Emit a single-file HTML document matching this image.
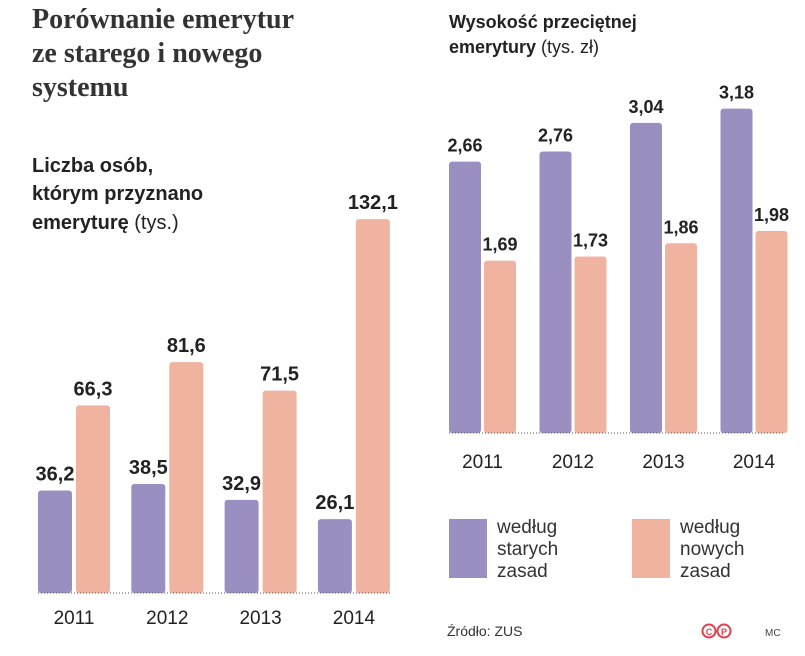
<!DOCTYPE html>
<html><head><meta charset="utf-8"><style>
body{margin:0;background:#fff;width:805px;height:651px;overflow:hidden;font-family:"Liberation Sans",sans-serif;color:#222}
</style></head><body>
<svg width="805" height="651">
<text x="32" y="28" font-family="Liberation Serif" font-weight="bold" font-size="28" fill="#333">Porównanie emerytur</text>
<text x="32" y="62" font-family="Liberation Serif" font-weight="bold" font-size="28" fill="#333">ze starego i nowego</text>
<text x="32" y="96" font-family="Liberation Serif" font-weight="bold" font-size="28" fill="#333">systemu</text>
<g font-size="20" fill="#222">
<text x="32" y="172" font-weight="bold">Liczba osób,</text>
<text x="32" y="200" font-weight="bold">którym przyznano</text>
<text x="32" y="229"><tspan font-weight="bold">emeryturę</tspan> (tys.)</text>
</g>
<g font-size="18" fill="#222">
<text x="449" y="28" font-weight="bold">Wysokość przeciętnej</text>
<text x="449" y="53"><tspan font-weight="bold">emerytury</tspan> (tys. zł)</text>
</g>
<g id="left"></g><g id="right"></g>
<rect x="449" y="519" width="38" height="59" fill="#9b8fc2"/>
<g font-size="19" fill="#333"><text x="497" y="533">według</text><text x="497" y="555">starych</text><text x="497" y="577">zasad</text></g>
<rect x="632" y="519" width="38" height="59" fill="#f0b3a0"/>
<g font-size="19" fill="#333"><text x="680" y="533">według</text><text x="680" y="555">nowych</text><text x="680" y="577">zasad</text></g>
<text x="447" y="636" font-size="14" fill="#333">Źródło: ZUS</text>
<circle cx="709" cy="631" r="6.5" fill="none" stroke="#e04050" stroke-width="2"/>
<text x="709" y="635" font-size="9" font-weight="bold" fill="#e04050" text-anchor="middle">C</text>
<circle cx="724" cy="631" r="6.5" fill="none" stroke="#e04050" stroke-width="2"/>
<text x="724" y="635" font-size="9" font-weight="bold" fill="#e04050" text-anchor="middle">P</text>
<text x="765" y="636" font-size="10" fill="#444">MC</text>
</svg>
<script>
const years=["2011","2012","2013","2014"];
const countOld=[36.2,38.5,32.9,26.1];
const countNew=[66.3,81.6,71.5,132.1];
const countLabelsOld=["36,2","38,5","32,9","26,1"];
const countLabelsNew=["66,3","81,6","71,5","132,1"];
const pensionOld=[2.66,2.76,3.04,3.18];
const pensionNew=[1.69,1.73,1.86,1.98];
const pensionLabelsOld=["2,66","2,76","3,04","3,18"];
const pensionLabelsNew=["1,69","1,73","1,86","1,98"];
const NS="http://www.w3.org/2000/svg";
function mk(g,tag,attrs){const e=document.createElementNS(NS,tag);for(const k in attrs)e.setAttribute(k,attrs[k]);g.appendChild(e);return e;}
function draw(gid,base,scale,x0,step,bw,gap,old,nw,lo,ln,yearY,fs,lineX1,lineX2){
 const g=document.getElementById(gid);
 const y=v=>base-v*scale;
 years.forEach((yr,i)=>{
  const xo=x0+i*step, xn=xo+bw+gap;
  let r=mk(g,'rect',{x:xo,y:y(old[i]),width:bw,height:base-y(old[i]),rx:3,fill:'#9b8fc2'});
  
  
  r=mk(g,'rect',{x:xn,y:y(nw[i]),width:bw,height:base-y(nw[i]),rx:3,fill:'#f0b3a0'});
  
  
  let t=mk(g,'text',{x:xo+bw/2,y:y(old[i])-10,'text-anchor':'middle','font-size':fs,'font-weight':'bold',fill:'#222'});t.textContent=lo[i];
  
  
  t=mk(g,'text',{x:xn+bw/2,y:y(nw[i])-10,'text-anchor':'middle','font-size':fs,'font-weight':'bold',fill:'#222'});t.textContent=ln[i];
  
  
  t=mk(g,'text',{x:xo+bw+gap/2,y:yearY,'text-anchor':'middle','font-size':19,fill:'#222'});t.textContent=yr;
  
  
 });
 const l=mk(g,'line',{x1:lineX1,x2:lineX2,y1:base,y2:base,stroke:'#555','stroke-dasharray':'1 2'});
 
 
}
draw('left',593,2.83,38,93.3,34,4,countOld,countNew,countLabelsOld,countLabelsNew,624,20,38,390);
draw('right',433,102,449,90.5,32,3,pensionOld,pensionNew,pensionLabelsOld,pensionLabelsNew,468,18,449,785);
</script>
</body></html>
